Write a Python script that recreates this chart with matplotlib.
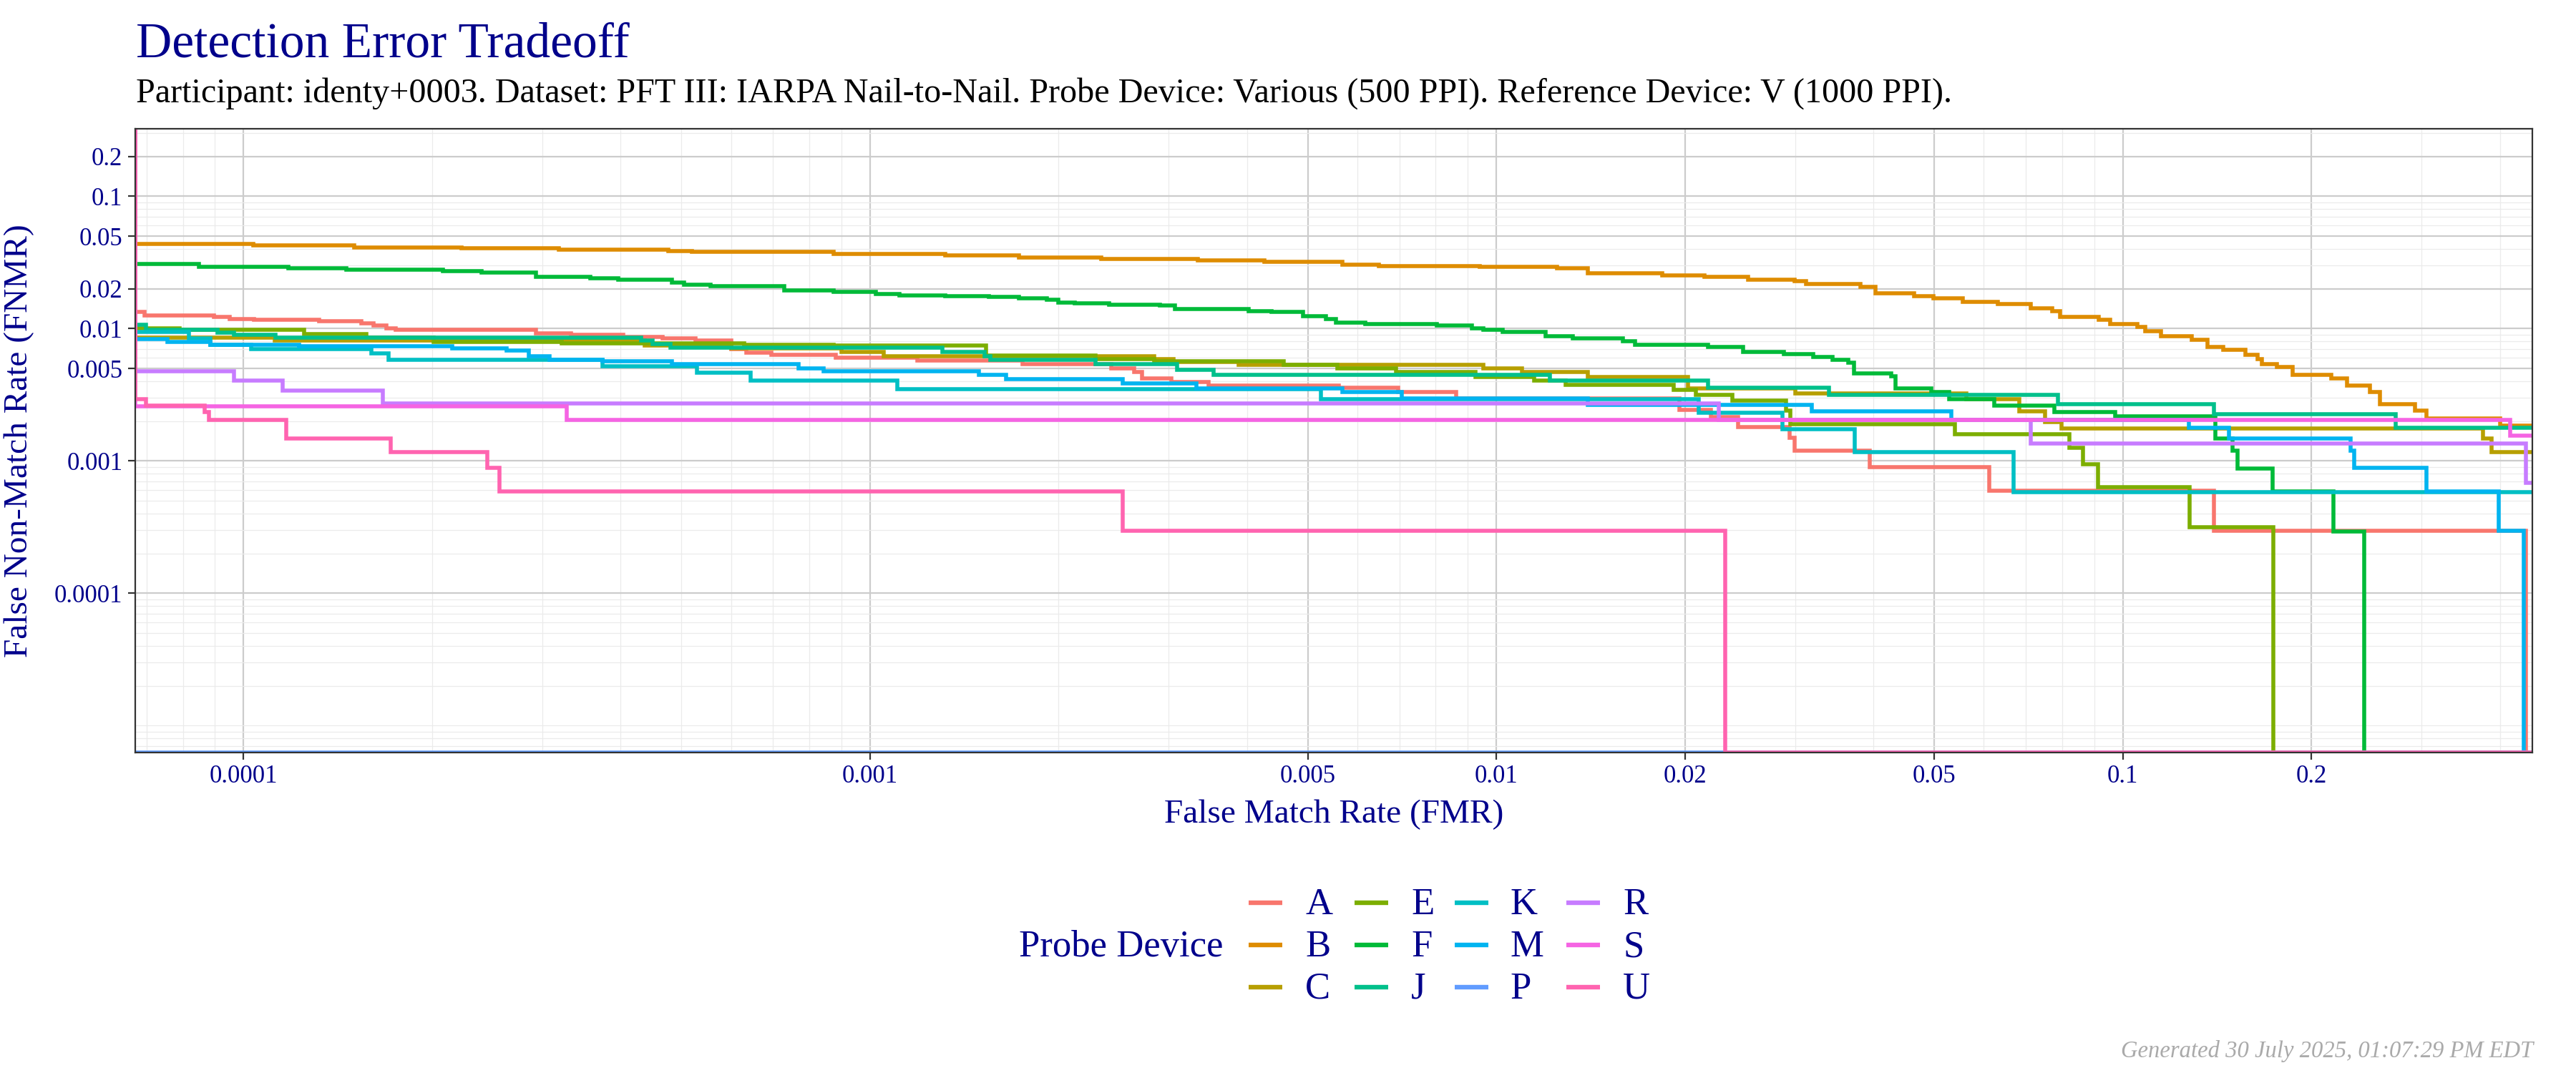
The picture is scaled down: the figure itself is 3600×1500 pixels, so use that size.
import matplotlib
matplotlib.use('Agg')
from matplotlib import pyplot as plt
from matplotlib.lines import Line2D
from matplotlib.ticker import FixedLocator, NullFormatter

plt.rcParams['font.family'] = ['Liberation Serif', 'DejaVu Serif']

# probe devices, in legend order, with the default ggplot hue colours
devices = ['A', 'B', 'C', 'E', 'F', 'J', 'K', 'M', 'P', 'R', 'S', 'U']
colors = ['#F8766D', '#DE8C00', '#B79F00', '#7CAE00', '#00BA38', '#00C08B',
          '#00BFC4', '#00B4F0', '#619CFF', '#C77CFF', '#F564E3', '#FF64B0']

# DET step points: fnmr[i] holds from fmr[i] up to fmr[i+1]
a_fmr = [0, 6.94e-5, 8.97e-5, 9.5e-5, 1.04e-4, 1.32e-4, 1.54e-4, 1.61e-4, 1.69e-4, 1.75e-4,
         2.93e-4, 3.33e-4, 4.04e-4, 4.66e-4, 5.26e-4, 6.0e-4, 6.34e-4, 6.96e-4, 8.81e-4, 1.19e-3,
         1.75e-3, 2.43e-3, 2.64e-3, 2.72e-3, 3.03e-3, 3.47e-3, 5.6e-3, 6.97e-3, 8.63e-3, 0.0196,
         0.022, 0.0243, 0.0294, 0.0299, 0.0395, 0.0612, 0.1398, 0.44]
a_fnmr = [0.0134, 0.0126, 0.0122, 0.0118, 0.0116, 0.0114, 0.0110, 0.0106, 0.0101, 0.0098,
          0.0092, 0.0090, 0.0087, 0.0084, 0.0081, 0.0070, 0.00655, 0.0063, 0.0060, 0.00573,
          0.00537, 0.0050, 0.0047, 0.00419, 0.00394, 0.0037, 0.00356, 0.0033, 0.00298, 0.00242,
          0.00214, 0.00181, 0.0015, 0.0012, 0.0009, 0.000596, 0.000298, 0]

b_fmr = [0, 1.035e-4, 1.5e-4, 2.23e-4, 3.19e-4, 4.76e-4, 5.19e-4, 8.75e-4, 1.32e-3, 1.73e-3,
         2.34e-3, 3.34e-3, 4.26e-3, 5.67e-3, 6.49e-3, 9.4e-3, 0.0125, 0.014, 0.0184, 0.0215,
         0.0252, 0.0299, 0.0312, 0.0381, 0.0403, 0.0465, 0.0499, 0.0556, 0.0632, 0.0713,
         0.0771, 0.0794, 0.0915, 0.0955, 0.1056, 0.1086, 0.115, 0.129, 0.1365, 0.1445,
         0.157, 0.1643, 0.1667, 0.1764, 0.1868, 0.2154, 0.228, 0.248, 0.2575, 0.2928,
         0.3056, 0.4007]
b_fnmr = [0.0438, 0.0424, 0.0410, 0.0404, 0.0395, 0.0387, 0.0379, 0.0367, 0.0356, 0.0346,
          0.0337, 0.0327, 0.0320, 0.0304, 0.0298, 0.0292, 0.0286, 0.0263, 0.0252, 0.0245,
          0.0235, 0.0228, 0.0217, 0.0207, 0.0185, 0.0176, 0.0170, 0.0160, 0.0153, 0.0143,
          0.0135, 0.0123, 0.0117, 0.0108, 0.0103, 0.0095, 0.0088, 0.0082, 0.0073, 0.0069,
          0.0063, 0.0059, 0.0054, 0.0051, 0.0045, 0.0042, 0.0037, 0.0033, 0.0027, 0.0024,
          0.0021, 0.00185]

c_fmr = [0, 1.12e-4, 4.37e-4, 6.0e-4, 9.0e-4, 1.053e-3, 2.84e-3, 3.05e-3, 3.88e-3, 9.54e-3,
         0.011, 0.014, 0.0202, 0.030, 0.0563, 0.0683, 0.0752, 0.0799, 0.3758, 0.3878]
c_fnmr = [0.0085, 0.0081, 0.00748, 0.00711, 0.00669, 0.00616, 0.0059, 0.0056, 0.0053, 0.00501,
          0.0047, 0.00433, 0.00352, 0.00324, 0.00292, 0.00237, 0.00197, 0.00176, 0.00147, 0.00117]

e_fmr = [0, 7.9e-5, 1.25e-4, 1.57e-4, 2.01e-4, 3.22e-4, 6.3e-4, 8.75e-4, 1.53e-3, 2.29e-3,
         2.84e-3, 4.58e-3, 5.58e-3, 6.92e-3, 9.27e-3, 0.0115, 0.0129, 0.0192, 0.0208, 0.0238,
         0.0290, 0.0295, 0.054, 0.0822, 0.0865, 0.0913, 0.128, 0.174]
e_fnmr = [0.0100, 0.00979, 0.00913, 0.00858, 0.00796, 0.00775, 0.00757, 0.00742, 0.00628, 0.0059,
          0.00566, 0.00532, 0.00501, 0.0047, 0.00433, 0.00403, 0.00374, 0.00344, 0.00317, 0.00286,
          0.0024, 0.00189, 0.00159, 0.00126, 0.00094, 0.00063, 0.000315, 0]

f_fmr = [0, 8.48e-5, 1.18e-4, 1.46e-4, 2.08e-4, 2.4e-4, 2.93e-4, 3.58e-4, 3.96e-4, 4.83e-4,
         5.05e-4, 5.57e-4, 7.3e-4, 8.75e-4, 1.023e-3, 1.114e-3, 1.32e-3, 1.55e-3, 1.73e-3, 1.916e-3,
         2.0e-3, 2.12e-3, 2.41e-3, 2.9e-3, 3.07e-3, 4.02e-3, 4.38e-3, 4.91e-3, 5.35e-3, 5.55e-3,
         6.17e-3, 8.04e-3, 9.14e-3, 9.54e-3, 0.01024, 0.01199, 0.01325, 0.01594, 0.01664, 0.0218,
         0.02478, 0.0288, 0.03208, 0.0344, 0.0365, 0.0372, 0.0427, 0.0434, 0.0495, 0.0528,
         0.0623, 0.0777, 0.0973, 0.1406, 0.1497, 0.1526, 0.1735, 0.217, 0.2432]
f_fnmr = [0.0307, 0.0294, 0.0286, 0.0280, 0.0272, 0.0265, 0.0247, 0.0239, 0.0234, 0.0223,
          0.0215, 0.0209, 0.0194, 0.0189, 0.0183, 0.0179, 0.0177, 0.0174, 0.0169, 0.0165,
          0.01565, 0.0155, 0.0152, 0.0149, 0.0140, 0.0136, 0.0134, 0.0124, 0.0118, 0.0111,
          0.01077, 0.01055, 0.0101, 0.0098, 0.0094, 0.00876, 0.00847, 0.00806, 0.00757, 0.00727,
          0.00669, 0.00641, 0.00609, 0.00583, 0.00555, 0.0046, 0.00436, 0.00351, 0.00331, 0.00292,
          0.00263, 0.00234, 0.00218, 0.00147, 0.00119, 0.000875, 0.00059, 0.000294, 0]

j_fmr = [0, 6.99e-5, 9.09e-5, 9.66e-5, 1.123e-4, 4.31e-4, 4.5e-4, 4.8e-4, 1.304e-3, 1.525e-3,
         1.558e-3, 2.29e-3, 3.09e-3, 3.54e-3, 0.01216, 0.0218, 0.034, 0.0788, 0.14, 0.2727]
j_fnmr = [0.0107, 0.0098, 0.0093, 0.0090, 0.0085, 0.0081, 0.0076, 0.00718, 0.00669, 0.00616,
          0.00583, 0.00537, 0.0049, 0.00447, 0.00403, 0.00356, 0.00314, 0.00268, 0.00225, 0.00179]

k_fmr = [0, 8.18e-5, 8.84e-5, 1.027e-4, 1.6e-4, 1.705e-4, 3.74e-4, 5.3e-4, 6.44e-4, 1.106e-3,
         5.24e-3, 0.02106, 0.0286, 0.0373, 0.0669]
k_fnmr = [0.0094, 0.0084, 0.00757, 0.00697, 0.00647, 0.00583, 0.00521, 0.00464, 0.00406, 0.00347,
          0.00292, 0.00232, 0.00174, 0.00116, 0.000583]

m_fmr = [0, 7.55e-5, 8.84e-5, 1.227e-4, 2.155e-4, 2.63e-4, 2.85e-4, 3.08e-4, 3.74e-4, 4.83e-4,
         7.69e-4, 8.44e-4, 1.493e-3, 1.65e-3, 2.53e-3, 3.32e-3, 5.67e-3, 7.07e-3, 0.014, 0.03186,
         0.0532, 0.1276, 0.1476, 0.2308, 0.2342, 0.3056, 0.398, 0.4365]
m_fnmr = [0.0083, 0.00796, 0.00757, 0.00735, 0.00711, 0.00682, 0.0062, 0.00578, 0.00566, 0.00537,
          0.00501, 0.00474, 0.00447, 0.00415, 0.00385, 0.00355, 0.0033, 0.00295, 0.00266, 0.00237,
          0.00205, 0.00179, 0.00148, 0.0012, 0.000887, 0.00059, 0.000298, 0]

p_fmr = [0]
p_fnmr = [0]

r_fmr = [0, 9.66e-5, 1.153e-4, 1.67e-4, 0.02262, 0.0713, 0.440]
r_fnmr = [0.00476, 0.00406, 0.0034, 0.00271, 0.00205, 0.00136, 0.00068]

s_fmr = [0, 3.28e-4, 0.415]
s_fnmr = [0.0026, 0.00205, 0.00155]

u_fmr = [0, 6.98e-5, 8.66e-5, 8.8e-5, 1.168e-4, 1.716e-4, 2.45e-4, 2.56e-4, 2.53e-3, 0.0232]
u_fnmr = [0.00294, 0.00263, 0.00234, 0.00205, 0.00147, 0.00117, 0.00089, 0.00059, 0.000298, 0]

curves = [(a_fmr, a_fnmr), (b_fmr, b_fnmr), (c_fmr, c_fnmr), (e_fmr, e_fnmr),
          (f_fmr, f_fnmr), (j_fmr, j_fnmr), (k_fmr, k_fnmr), (m_fmr, m_fnmr),
          (p_fmr, p_fnmr), (r_fmr, r_fnmr), (s_fmr, s_fnmr), (u_fmr, u_fnmr)]

breaks = [0.0001, 0.001, 0.005, 0.01, 0.02, 0.05, 0.1, 0.2]
break_labels = ['0.0001', '0.001', '0.005', '0.01', '0.02', '0.05', '0.1', '0.2']

XLIM = (6.72e-5, 0.4505)
YLIM = (6.25e-6, 0.324)
NAVY = '#00008B'

fig = plt.figure(figsize=(36, 15), dpi=100)
ax = fig.add_axes([0.0526, 0.2987, 0.9304, 0.5813])
ax.set_xscale('log')
ax.set_yscale('log')


def draw(fmr, fnmr, color):
    # zero rates sit on the panel edge, like -Inf in ggplot
    xs = [max(v, XLIM[0]) for v in fmr]
    ys = [max(v, YLIM[0]) for v in fnmr]
    if fnmr[0] > 0:
        xs = [XLIM[0]] + xs
        ys = [1.0] + ys
    xs.append(1.0)
    ys.append(ys[-1])
    ax.plot(xs, ys, drawstyle='steps-post', color=color, lw=4.0,
            solid_capstyle='butt', solid_joinstyle='miter')


for (fmr, fnmr), col in zip(curves, colors):
    draw(fmr, fnmr, col)

ax.set_xlim(*XLIM)
ax.set_ylim(*YLIM)

# grid: majors at the breaks, minors at every other k*10^n
minor = [k * 10.0 ** e for e in range(-7, 1) for k in range(1, 10)]
minor = [v for v in minor if min(abs(v / b - 1) for b in breaks) > 1e-6]
for axis in (ax.xaxis, ax.yaxis):
    axis.set_major_locator(FixedLocator(breaks))
    axis.set_minor_locator(FixedLocator(minor))
    axis.set_minor_formatter(NullFormatter())
ax.set_xticklabels(break_labels)
ax.set_yticklabels(break_labels)
ax.set_axisbelow(True)
ax.grid(which='major', color='#CCCCCC', lw=1.6)
ax.grid(which='minor', color='#EBEBEB', lw=0.9)
ax.tick_params(which='minor', length=0)
ax.tick_params(which='major', length=7, width=1.6, color='#333333',
               labelcolor=NAVY, labelsize=25)
ax.tick_params(axis='x', pad=5)
ax.tick_params(axis='y', pad=6)
for sp in ax.spines.values():
    sp.set_color('#333333')
    sp.set_linewidth(1.6)

# titles
fig.text(0.0528, 0.9467, 'Detection Error Tradeoff', color=NAVY, fontsize=50,
         va='baseline', ha='left')
fig.text(0.0528, 0.9047,
         'Participant: identy+0003. Dataset: PFT III: IARPA Nail-to-Nail. '
         'Probe Device: Various (500 PPI). Reference Device: V (1000 PPI).',
         color='black', fontsize=34.7, va='baseline', ha='left')
fig.text(0.5178, 0.2333, 'False Match Rate (FMR)', color=NAVY, fontsize=34,
         va='baseline', ha='center')
fig.text(0.0075, 0.589, 'False Non-Match Rate (FNMR)', color=NAVY, fontsize=34,
         rotation=90, va='center', ha='center')

# legend, drawn by hand: title on the left, 4 columns of 3
fig.text(1424 / 3600, 1 - 1337 / 1500, 'Probe Device', color=NAVY, fontsize=38,
         va='baseline', ha='left')
key_x = [1745, 1893, 2033, 2189]
label_x = [1824, 1972, 2110, 2268]
row_y = [1262, 1321, 1380]
for i, (name, col) in enumerate(zip(devices, colors)):
    c, r = i // 3, i % 3
    y = 1 - row_y[r] / 1500
    fig.add_artist(Line2D([key_x[c] / 3600, (key_x[c] + 47) / 3600], [y, y],
                          transform=fig.transFigure, color=col, lw=4.6,
                          solid_capstyle='butt'))
    fig.text(label_x[c] / 3600, 1 - (row_y[r] + 16) / 1500, name, color=NAVY,
             fontsize=38, va='baseline', ha='left')

fig.text(0.9833, 0.0147, 'Generated 30 July 2025, 01:07:29 PM EDT', color='#AAAAAA',
         fontsize=23.5, style='italic', va='baseline', ha='right')

fig.savefig('out.png', dpi=100)
